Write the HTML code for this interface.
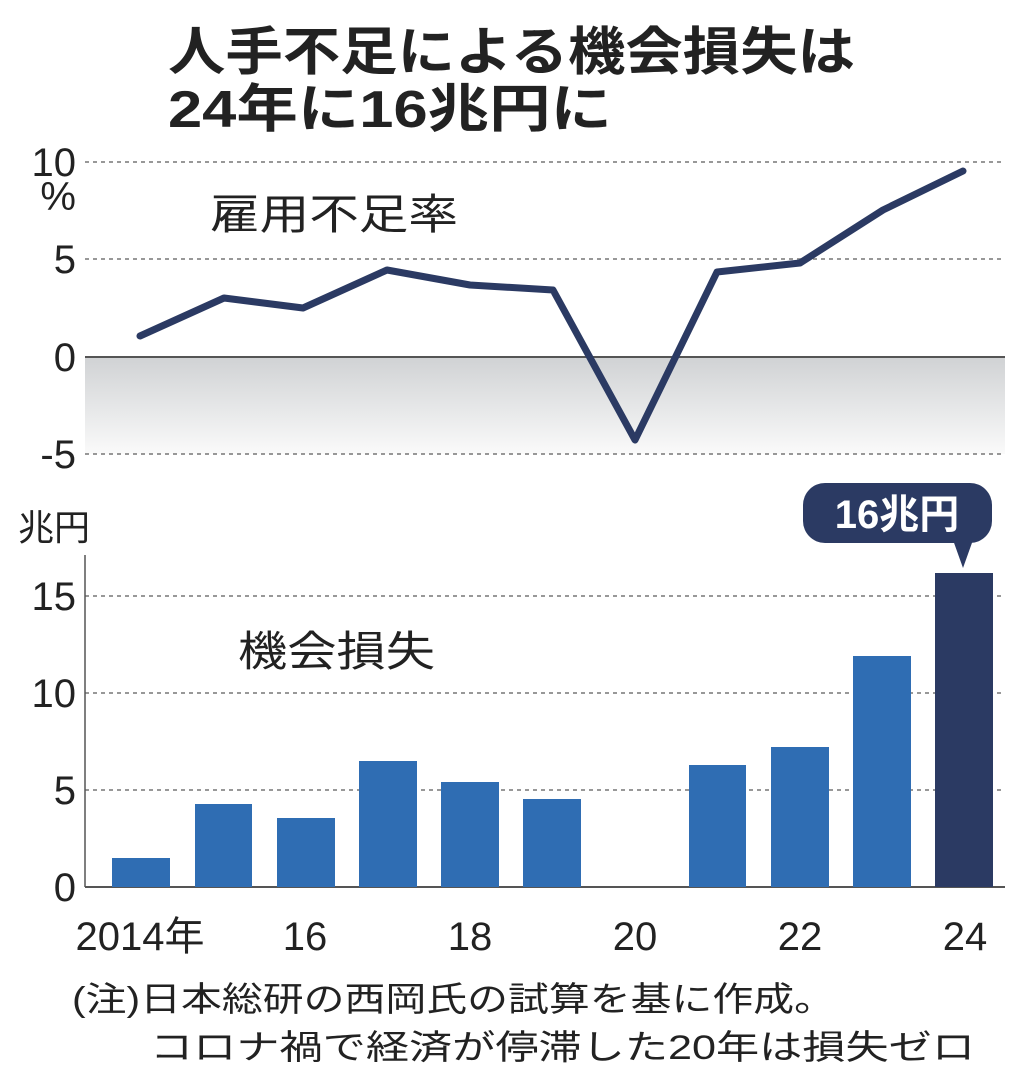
<!DOCTYPE html>
<html><head><meta charset="utf-8"><style>
body{margin:0;background:#fff;}
svg text{font-family:"Liberation Sans","Noto Sans CJK JP",sans-serif;}
</style></head><body>
<svg width="1024" height="1080" viewBox="0 0 1024 1080" xmlns="http://www.w3.org/2000/svg">
<defs><linearGradient id="g" x1="0" y1="0" x2="0" y2="1"><stop offset="0" stop-color="#d0d2d4"/><stop offset="1" stop-color="#fafafa"/></linearGradient></defs>
<rect width="1024" height="1080" fill="#fff"/>
<text x="168" y="70" font-size="52" font-weight="bold" fill="#222" textLength="687" lengthAdjust="spacingAndGlyphs">人手不足による機会損失は</text>
<text x="168" y="127" font-size="52" font-weight="bold" fill="#222" textLength="444" lengthAdjust="spacingAndGlyphs">24年に16兆円に</text>
<!-- top chart -->
<rect x="85" y="357" width="920" height="97" fill="url(#g)"/>
<g stroke="#777" stroke-width="1.5" stroke-dasharray="4,4">
<line x1="85" y1="162" x2="1005" y2="162"/><line x1="85" y1="259" x2="1005" y2="259"/><line x1="85" y1="454" x2="1005" y2="454"/>
</g>
<line x1="85" y1="357" x2="1005" y2="357" stroke="#555" stroke-width="2"/>
<g font-size="40" fill="#222" text-anchor="end">
<text x="76" y="176">10</text><text x="76" y="210">%</text><text x="76" y="273">5</text><text x="76" y="371">0</text><text x="76" y="468">-5</text>
</g>
<text x="210" y="229" font-size="42" fill="#222" textLength="248" lengthAdjust="spacingAndGlyphs">雇用不足率</text>
<polyline fill="none" stroke="#2b3a63" stroke-width="7" stroke-linejoin="round" stroke-linecap="round" points="140,336 224,298 303,308 387,270 470,285 553,290 635,440 717,272 800,263 883,210 963,171"/>
<!-- bottom chart -->
<text x="18" y="540" font-size="36" fill="#222">兆円</text>
<g stroke="#777" stroke-width="1.5" stroke-dasharray="4,4">
<line x1="85" y1="596" x2="1005" y2="596"/><line x1="85" y1="693" x2="1005" y2="693"/><line x1="85" y1="790" x2="1005" y2="790"/>
</g>
<line x1="85" y1="555" x2="85" y2="887" stroke="#555" stroke-width="1.5"/>
<line x1="85" y1="887" x2="1005" y2="887" stroke="#555" stroke-width="2"/>
<g font-size="40" fill="#222" text-anchor="end">
<text x="76" y="610">15</text><text x="76" y="707">10</text><text x="76" y="804">5</text><text x="76" y="901">0</text>
</g>
<text x="238" y="666" font-size="42" fill="#222" textLength="197" lengthAdjust="spacingAndGlyphs">機会損失</text>
<g fill="#2f6db3">
<rect x="112" y="858" width="58" height="29"/><rect x="195" y="804" width="57" height="83"/><rect x="277" y="818" width="58" height="69"/>
<rect x="359" y="761" width="58" height="126"/><rect x="441" y="782" width="58" height="105"/><rect x="523" y="799" width="58" height="88"/>
<rect x="689" y="765" width="57" height="122"/><rect x="771" y="747" width="58" height="140"/><rect x="853" y="656" width="58" height="231"/>
</g>
<rect x="935" y="573" width="58" height="314" fill="#2b3a63"/>
<rect x="803" y="483" width="189" height="60" rx="22" fill="#2b3a63"/>
<polygon points="953,540 973,540 963,568" fill="#2b3a63"/>
<text x="897" y="528" font-size="40" font-weight="bold" fill="#fff" text-anchor="middle">16兆円</text>
<g font-size="40" fill="#222" text-anchor="middle">
<text x="140" y="950">2014年</text><text x="305" y="950">16</text><text x="470" y="950">18</text><text x="635" y="950">20</text><text x="800" y="950">22</text><text x="965" y="950">24</text>
</g>
<text x="72" y="1011" font-size="34" fill="#222" textLength="763" lengthAdjust="spacingAndGlyphs">(注)日本総研の西岡氏の試算を基に作成。</text>
<text x="150" y="1059" font-size="34" fill="#222" textLength="825" lengthAdjust="spacingAndGlyphs">コロナ禍で経済が停滞した20年は損失ゼロ</text>
</svg>
</body></html>
